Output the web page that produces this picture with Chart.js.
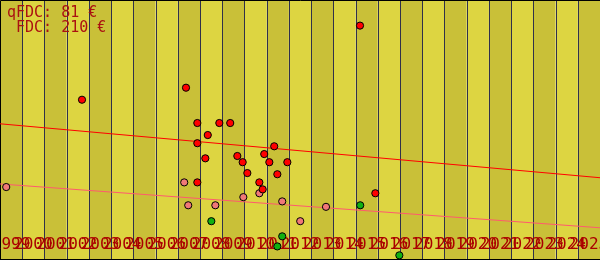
<!DOCTYPE html>
<html>
<head>
<meta charset="utf-8">
<script src="https://cdn.jsdelivr.net/npm/chart.js@4"></script>
<style>
    body { margin: 0; background: #ffffff; }
</style>
</head>
<body>
<canvas id="myChart" width="600" height="260"></canvas>
<script>
// years shown on the axis, one band per year
var firstYear = 1999;
var lastYear = 2026;
var yearLabels = ["1999", "2000", "2001", "2002", "2003", "2004", "2005", "2006", "2007",
    "2008", "2009", "2010", "2011", "2012", "2013", "2014", "2015", "2016", "2017",
    "2018", "2019", "2020", "2021", "2022", "2023", "2024", "2025"];

// FDC sales (red)
var fdcDates = [2015.20, 2002.69, 2007.37, 2007.88, 2008.87, 2009.36, 2008.35, 2007.88, 2008.24,
    2009.68, 2009.92, 2011.34, 2010.89, 2011.12, 2011.93, 2010.13, 2010.67, 2010.82, 2011.48,
    2007.88, 2015.89];
var fdcPrices = [604, 413, 444, 353, 353, 353, 322, 301, 262,
    268, 252, 293, 273, 252, 252, 224, 200, 182, 221,
    200, 172];

// qFDC sales (pink)
var qfdcDates = [1999.28, 2007.29, 2007.47, 2008.69, 2009.95, 2010.67, 2011.70, 2012.51, 2013.67];
var qfdcPrices = [188, 200, 141, 141, 162, 172, 151, 100, 137];

// other sales (green)
var otherDates = [2008.51, 2011.70, 2011.48, 2015.21, 2016.97];
var otherPrices = [100, 61, 35, 141, 12];

// trend lines
var trendYears = [1999, 2026];
var fdcTrend = [351, 212];
var qfdcTrend = [196, 83];

// current estimates
var qfdcNow = 81;
var fdcNow = 210;

function toPoints(xs, ys) {
    var pts = [];
    for (i = 0; i < xs.length; i++) {
        pts.push({ x: xs[i], y: ys[i] });
    }
    return pts;
}

// alternating year bands + separators, drawn under everything
const yearBands = {
    id: "yearBands",
    beforeDraw(chart) {
        const ctx = chart.ctx;
        const xs = chart.scales.x;
        const area = chart.chartArea;
        ctx.save();
        for (let yr = firstYear; yr < lastYear; yr++) {
            const x0 = xs.getPixelForValue(yr);
            const x1 = xs.getPixelForValue(yr + 1);
            ctx.fillStyle = (yr - firstYear) % 2 == 0 ? "#c9c038" : "#ddd541";
            ctx.fillRect(x0, area.top, x1 - x0, area.bottom - area.top);
        }
        ctx.strokeStyle = "#30304a";
        ctx.lineWidth = 1;
        ctx.beginPath();
        for (let yr = firstYear + 1; yr < lastYear; yr++) {
            const px = Math.round(xs.getPixelForValue(yr)) + 0.5;
            ctx.moveTo(px, area.top);
            ctx.lineTo(px, area.bottom);
        }
        ctx.stroke();
        // frame
        ctx.strokeStyle = "#000000";
        ctx.beginPath();
        ctx.moveTo(area.left + 0.5, area.bottom - 0.5);
        ctx.lineTo(area.left + 0.5, area.top + 0.5);
        ctx.lineTo(area.right, area.top + 0.5);
        ctx.moveTo(area.left, area.bottom - 0.5);
        ctx.lineTo(area.right, area.bottom - 0.5);
        ctx.stroke();
        ctx.restore();
    }
};

// price text in the top left corner
const priceLegend = {
    id: "priceLegend",
    afterDraw(chart) {
        const ctx = chart.ctx;
        ctx.save();
        ctx.font = "15px 'DejaVu Sans Mono'";
        ctx.fillStyle = "#aa1111";
        ctx.textBaseline = "alphabetic";
        ctx.fillText("qFDC: " + qfdcNow + " €", 7, 17);
        ctx.fillText(" FDC: " + fdcNow + " €", 7, 32);
        ctx.restore();
    }
};

const data = {
    datasets: [
        {
            type: "line",
            data: toPoints(trendYears, fdcTrend),
            borderColor: "#ff0000",
            borderWidth: 1,
            pointRadius: 0,
            order: 10,
        },
        {
            type: "line",
            data: toPoints(trendYears, qfdcTrend),
            borderColor: "#ff5a6e",
            borderWidth: 1,
            pointRadius: 0,
            order: 11,
        },
        {
            data: toPoints(qfdcDates, qfdcPrices),
            backgroundColor: "#f07878",
            borderColor: "#000000",
            borderWidth: 1,
            pointRadius: 3.6,
            order: 3,
        },
        {
            data: toPoints(otherDates, otherPrices),
            backgroundColor: "#11b011",
            borderColor: "#000000",
            borderWidth: 1,
            pointRadius: 3.6,
            order: 2,
        },
        {
            data: toPoints(fdcDates, fdcPrices),
            backgroundColor: "#ff0000",
            borderColor: "#000000",
            borderWidth: 1,
            pointRadius: 3.6,
            order: 1,
        },
    ],
};

const config = {
    type: "scatter",
    data,
    options: {
        responsive: false,
        animation: false,
        layout: { padding: 0, autoPadding: false },
        plugins: {
            legend: { display: false },
            tooltip: { enabled: false },
        },
        scales: {
            x: {
                type: "linear",
                min: firstYear,
                max: lastYear,
                // the axis takes no room: labels sit inside the plot
                afterFit: function (scale) {
                    scale.height = 0;
                    scale.paddingLeft = 0;
                    scale.paddingRight = 0;
                },
                afterBuildTicks: function (scale) {
                    scale.ticks = yearLabels.map(function (t, i) { return { value: firstYear + i + 0.5 }; });
                },
                grid: { display: false, drawTicks: false },
                border: { display: false },
                ticks: {
                    // mirror keeps the labels inside the plot (and unclipped)
                    mirror: true,
                    autoSkip: false,
                    maxRotation: 0,
                    minRotation: 0,
                    padding: 6,
                    color: "#aa0000",
                    font: { family: "DejaVu Sans Mono", size: 16 },
                    callback: function (v, i) { return yearLabels[i]; },
                },
            },
            y: {
                display: false,
                min: 0,
                max: 670,
            },
        },
    },
    plugins: [yearBands, priceLegend],
};

myChart = new Chart(document.getElementById("myChart"), config);
</script>
</body>
</html>
